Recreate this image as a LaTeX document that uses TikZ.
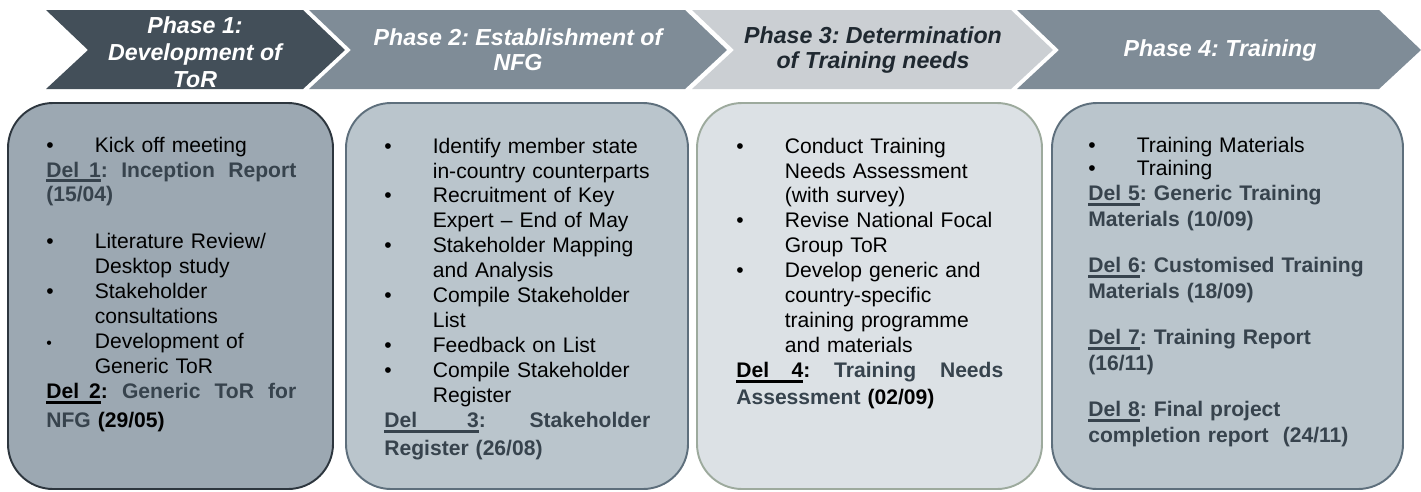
\documentclass[tikz,border=0pt]{standalone}
\usepackage{fontspec}
\setmainfont{Liberation Sans}
\frenchspacing

\definecolor{chevdark}{HTML}{434F59}
\definecolor{chevmid}{HTML}{7F8C97}
\definecolor{chevlight}{HTML}{CBCFD3}
\definecolor{boxonefill}{HTML}{9CA8B2}
\definecolor{boxoneline}{HTML}{2D363E}
\definecolor{boxtwofill}{HTML}{BAC5CC}
\definecolor{boxtwoline}{HTML}{5E6F7C}
\definecolor{boxthreefill}{HTML}{DCE1E5}
\definecolor{boxthreeline}{HTML}{9DAA9D}
\definecolor{delcol}{HTML}{37434D}
\definecolor{phasethreetext}{HTML}{1F2830}

\newcommand\delul[1]{\setbox0\hbox{#1}\rlap{\rule[-2.6pt]{\wd0}{1.2pt}}\box0}
\newcommand\bul{\makebox[0.97cm][l]{\textbullet}}
\newcommand\cont{\hspace*{0.97cm}}
\newcommand\chevron[3]{\fill[#3] (#1,10) -- (#2,10) -- (#2+42,50) -- (#2,89) -- (#1,89) -- (#1+42,50) -- cycle;}

\tikzset{
  phasetext/.style={align=center, inner sep=0pt, font=\fontsize{13.2pt}{0.5cm}\selectfont\bfseries\itshape},
  boxtext/.style={anchor=base west, inner sep=0pt, align=left, font=\fontsize{12pt}{0.5cm}\selectfont},
  taskbox/.style={rounded corners=0.9cm, line width=1.1pt}
}

\begin{document}
\begin{tikzpicture}[x=0.02cm, y=-0.02cm]
\useasboundingbox (0,0) rectangle (1421,491);

\chevron{46}{303}{chevdark}
\chevron{309}{685}{chevmid}
\chevron{692}{1011}{chevlight}
\chevron{1017}{1379}{chevmid}

\node[phasetext, text=white] (phase1) at (195,52) {Phase 1:\\[0.04cm]Development of\\[0.04cm]ToR};
\node[phasetext, text=white] (phase2) at (518,50) {Phase 2: Establishment of\\NFG};
\node[phasetext, text=phasethreetext] (phase3) at (873,50) {Phase 3: Determination\\of Training needs};
\node[phasetext, text=white] (phase4) at (1220,50) {Phase 4: Training};

\draw[taskbox, fill=boxonefill, draw=boxoneline] (8,103) rectangle (333,489);
\draw[taskbox, fill=boxtwofill, draw=boxtwoline] (346,103) rectangle (688,489);
\draw[taskbox, fill=boxthreefill, draw=boxthreeline] (697,103) rectangle (1042,489);
\draw[taskbox, fill=boxtwofill, draw=boxtwoline] (1052,103) rectangle (1403,489);

\node[boxtext, text width=5cm] (tasks1) at (46,152) {%
\bul Kick off meeting\\
\makebox[\linewidth][l]{\bfseries\color{delcol}\delul{Del\hspace{0.2cm}1}:\hfill Inception\hfill Report}\\
\textbf{\color{delcol}(15/04)}\\[0.44cm]
\bul Literature Review/\\
\cont Desktop study\\
\bul Stakeholder\\
\cont consultations\\
\makebox[0.97cm][l]{\small\textbullet}Development of\\
\cont Generic ToR\\
\makebox[\linewidth][l]{\bfseries\delul{Del\hspace{0.2cm}2}:\hfill\color{delcol}Generic\hfill ToR\hfill for}\\[0.08cm]
\textbf{\color{delcol}NFG \color{black}(29/05)}};

\node[boxtext, text width=5.32cm] (tasks2) at (384,153) {%
\bul Identify member state\\
\cont in-country counterparts\\
\bul Recruitment of Key\\
\cont Expert – End of May\\
\bul Stakeholder Mapping\\
\cont and Analysis\\
\bul Compile Stakeholder\\
\cont List\\
\bul Feedback on List\\
\bul Compile Stakeholder\\
\cont Register\\
\makebox[\linewidth][l]{\bfseries\color{delcol}\delul{Del\hspace{1cm}3}:\hfill Stakeholder}\\[0.06cm]
\textbf{\color{delcol}Register (26/08)}};

\node[boxtext, text width=5.34cm] (tasks3) at (736,153) {%
\bul Conduct Training\\
\cont Needs Assessment\\
\cont (with survey)\\
\bul Revise National Focal\\
\cont Group ToR\\
\bul Develop generic and\\
\cont country-specific\\
\cont training programme\\
\cont and materials\\
\makebox[\linewidth][l]{\bfseries\delul{Del\hspace{0.45cm}4}:\hfill\color{delcol}Training\hfill Needs}\\[0.04cm]
\textbf{\color{delcol}Assessment \color{black}(02/09)}};

\node[boxtext, text width=6cm, font=\fontsize{12pt}{0.52cm}\selectfont] (tasks4) at (1088,152) {%
\bul Training Materials\\[-0.06cm]
\bul Training\\
\textbf{\color{delcol}\delul{Del 5}: Generic Training}\\
\textbf{\color{delcol}Materials (10/09)}\\[0.4cm]
\textbf{\color{delcol}\delul{Del 6}: Customised Training}\\
\textbf{\color{delcol}Materials (18/09)}\\[0.4cm]
\textbf{\color{delcol}\delul{Del 7}: Training Report}\\
\textbf{\color{delcol}(16/11)}\\[0.4cm]
\textbf{\color{delcol}\delul{Del 8}: Final project}\\
\textbf{\color{delcol}completion report\ \ (24/11)}};
\end{tikzpicture}
\end{document}
